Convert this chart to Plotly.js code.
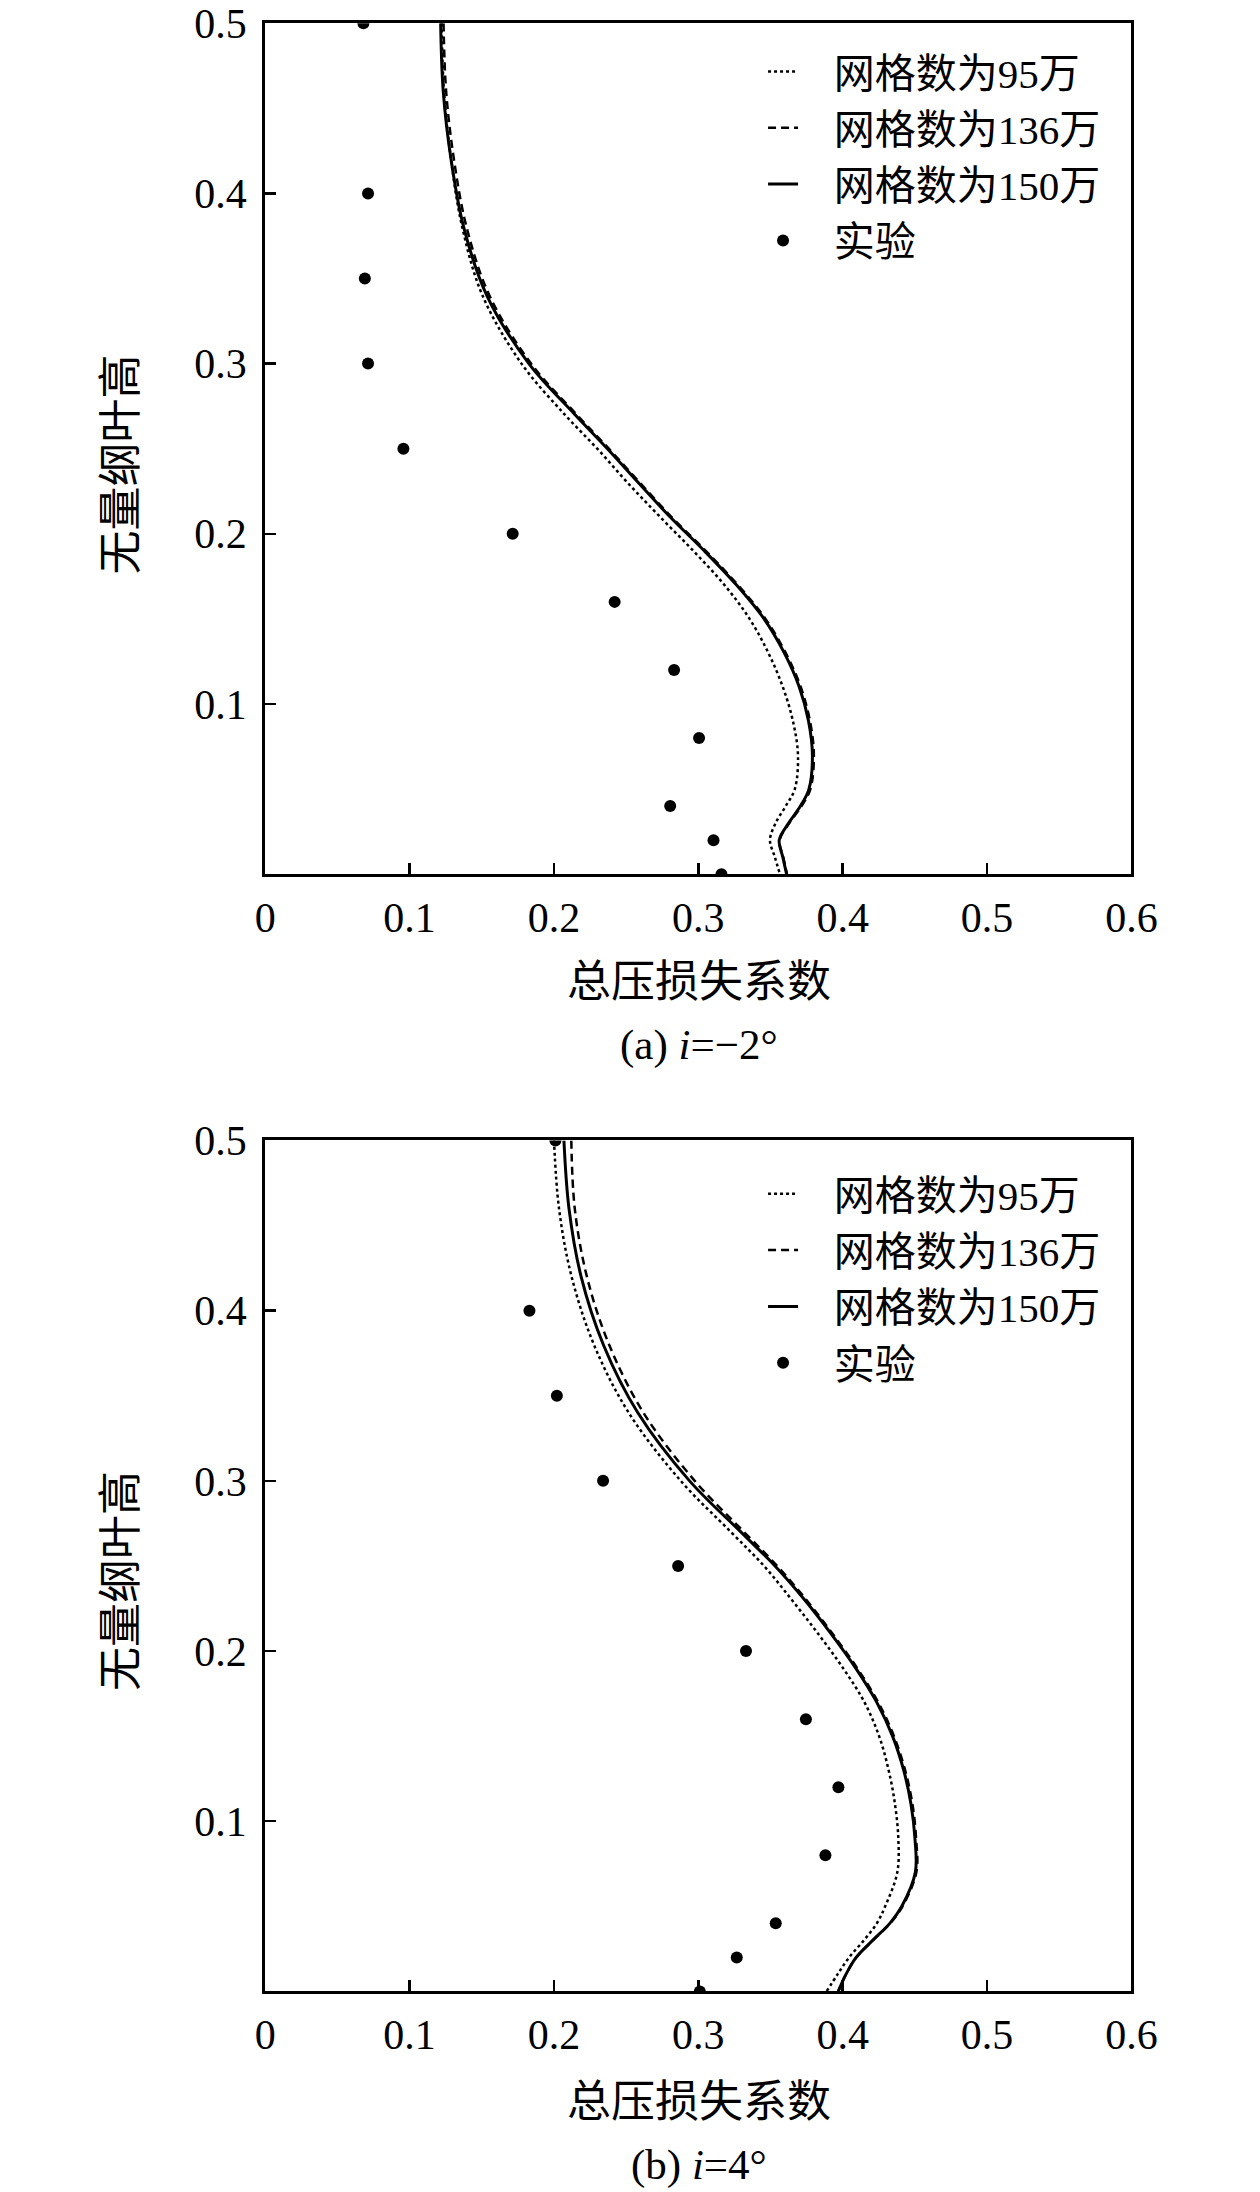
<!DOCTYPE html>
<html>
<head>
<meta charset="utf-8">
<script src="https://cdn.plot.ly/plotly-3.0.1.min.js"></script>
<style>
  body { margin: 0; background: #fff; }
  #plot { width: 1260px; height: 2192px; }
</style>
</head>
<body>
<div id="plot"></div>
<script>
// blade height samples shared by the simulated curves
var spanGrid = [0.5, 0.46, 0.42, 0.38, 0.34, 0.30, 0.27, 0.25, 0.23, 0.21, 0.19, 0.17,
                0.15, 0.13, 0.11, 0.09, 0.07, 0.05, 0.04, 0.03, 0.02, 0.01, 0.0];

// (a) i = -2 deg
var lossA95  = [0.1222, 0.1238, 0.1287, 0.1365, 0.1505, 0.1775, 0.2075, 0.230, 0.251, 0.2734, 0.2965, 0.318,
                0.3355, 0.3485, 0.3585, 0.3655, 0.369, 0.3668, 0.3605, 0.3535, 0.3496, 0.353, 0.3565];
var lossA136 = [0.1235, 0.1253, 0.1307, 0.1395, 0.1553, 0.1841, 0.2158, 0.238, 0.2595, 0.2813, 0.3051, 0.3273,
                0.3465, 0.3605, 0.3709, 0.3773, 0.380, 0.3776, 0.3715, 0.363, 0.3563, 0.3588, 0.3614];
var lossA150 = [0.1215, 0.1233, 0.1287, 0.1375, 0.1535, 0.1826, 0.2146, 0.237, 0.2585, 0.2803, 0.3041, 0.3263,
                0.3455, 0.3595, 0.3699, 0.3763, 0.379, 0.3766, 0.3707, 0.3625, 0.356, 0.3585, 0.3611];

// (b) i = 4 deg
var lossB95  = [0.200, 0.2035, 0.2122, 0.2277, 0.2518, 0.2878, 0.3225, 0.3455, 0.3648, 0.3831, 0.4002, 0.415,
                0.4252, 0.4318, 0.4362, 0.4385, 0.4378, 0.4294, 0.4236, 0.4146, 0.4044, 0.3964, 0.3888];
var lossB136 = [0.212, 0.2144, 0.2228, 0.2382, 0.262, 0.2975, 0.3316, 0.3546, 0.3749, 0.3931, 0.410, 0.4245,
                0.4355, 0.4432, 0.4483, 0.4508, 0.451, 0.4414, 0.4329, 0.4209, 0.4094, 0.4022, 0.3969];
var lossB150 = [0.2069, 0.2104, 0.2188, 0.2342, 0.2581, 0.2939, 0.3294, 0.3531, 0.3737, 0.3921, 0.409, 0.4235,
                0.4345, 0.4422, 0.4473, 0.450, 0.4503, 0.4409, 0.4326, 0.4207, 0.4093, 0.4022, 0.3969];

// experiment
var expSpan  = [0.5, 0.4, 0.35, 0.3, 0.25, 0.2, 0.16, 0.12, 0.08, 0.04, 0.02, 0.0];
var expLossA = [0.068, 0.0712, 0.069, 0.0712, 0.0957, 0.1714, 0.242, 0.2832, 0.3005, 0.2805, 0.3105, 0.316];
var expLossB = [0.201, 0.183, 0.202, 0.234, 0.286, 0.333, 0.3745, 0.397, 0.388, 0.3536, 0.3266, 0.301];

var names = ['网格数为95万', '网格数为136万', '网格数为150万', '实验'];
var xTicks = [0, 0.1, 0.2, 0.3, 0.4, 0.5, 0.6];
var yTicks = [0.1, 0.2, 0.3, 0.4, 0.5];

var FONT = '"Liberation Serif", "Noto Sans CJK SC", serif';
var GAP = '\u00a0\u00a0\u00a0';

function lineTrace(x, name, dash, width, ax, leg) {
    return {
        x: x, y: spanGrid, name: GAP + name, mode: 'lines',
        line: { color: '#000', width: width, dash: dash, shape: 'spline', smoothing: 1 },
        xaxis: 'x' + ax, yaxis: 'y' + ax, legend: leg
    };
}

function expTrace(x, ax, leg) {
    return {
        x: x, y: expSpan, name: GAP + names[3], mode: 'markers',
        marker: { color: '#000', size: 12 },
        xaxis: 'x' + ax, yaxis: 'y' + ax, legend: leg, cliponaxis: true
    };
}

var data = [
    lineTrace(lossA95, names[0], 'dot', 2.5, '', 'legend'),
    lineTrace(lossA136, names[1], '8px,5px', 2.5, '', 'legend'),
    lineTrace(lossA150, names[2], 'solid', 3, '', 'legend'),
    expTrace(expLossA, '', 'legend'),
    lineTrace(lossB95, names[0], 'dot', 2.5, '2', 'legend2'),
    lineTrace(lossB136, names[1], '8px,5px', 2.5, '2', 'legend2'),
    lineTrace(lossB150, names[2], 'solid', 3, '2', 'legend2'),
    expTrace(expLossB, '2', 'legend2')
];

function xAxis(anchor) {
    return {
        domain: [0.2105, 0.898], range: [0, 0.6], anchor: anchor,
        tickvals: xTicks, ticks: 'inside', ticklen: 11, tickwidth: 2.5, tickcolor: '#000',
        showline: true, linecolor: '#000', linewidth: 3, mirror: true,
        showgrid: false, zeroline: false, ticklabelstandoff: 4,
        tickfont: { family: FONT, size: 42, color: '#000' }
    };
}

function yAxis(anchor, dom) {
    return {
        domain: dom, range: [0, 0.5], anchor: anchor,
        tickvals: yTicks, ticks: 'inside', ticklen: 11, tickwidth: 2.5, tickcolor: '#000',
        showline: true, linecolor: '#000', linewidth: 3, mirror: true,
        showgrid: false, zeroline: false, ticklabelstandoff: 7,
        tickfont: { family: FONT, size: 42, color: '#000' }
    };
}

function legendBox(y) {
    return {
        x: 0.6056, y: y, xanchor: 'left', yanchor: 'top',
        bgcolor: 'rgba(0,0,0,0)', borderwidth: 0, itemwidth: 30,
        font: { family: FONT, size: 41, color: '#000' }
    };
}

function note(text, x, y, size, angle) {
    return {
        text: text, x: x, y: y, xref: 'paper', yref: 'paper', showarrow: false,
        xanchor: 'center', yanchor: 'middle', textangle: angle || 0,
        font: { family: FONT, size: size, color: '#000' }
    };
}

var layout = {
    width: 1260, height: 2192,
    margin: { l: 0, r: 0, t: 0, b: 0 },
    paper_bgcolor: '#fff', plot_bgcolor: '#fff',
    font: { family: FONT, size: 42, color: '#000' },
    xaxis: xAxis('y'),
    yaxis: yAxis('x', [0.6012, 0.9894]),
    xaxis2: xAxis('y2'),
    yaxis2: yAxis('x2', [0.0915, 0.4797]),
    legend: legendBox(0.9825),
    legend2: legendBox(0.4705),
    annotations: [
        note('总压损失系数', 0.5548, 0.552, 44),
        note('(a) <i>i</i>=−2°', 0.5548, 0.5233, 43),
        note('无量纲叶高', 0.0964, 0.7883, 44, -90),
        note('总压损失系数', 0.5548, 0.0407, 44),
        note('(b) <i>i</i>=4°', 0.5548, 0.0121, 43),
        note('无量纲叶高', 0.0964, 0.2790, 44, -90)
    ]
};

Plotly.newPlot('plot', data, layout, { staticPlot: true });
</script>
</body>
</html>
